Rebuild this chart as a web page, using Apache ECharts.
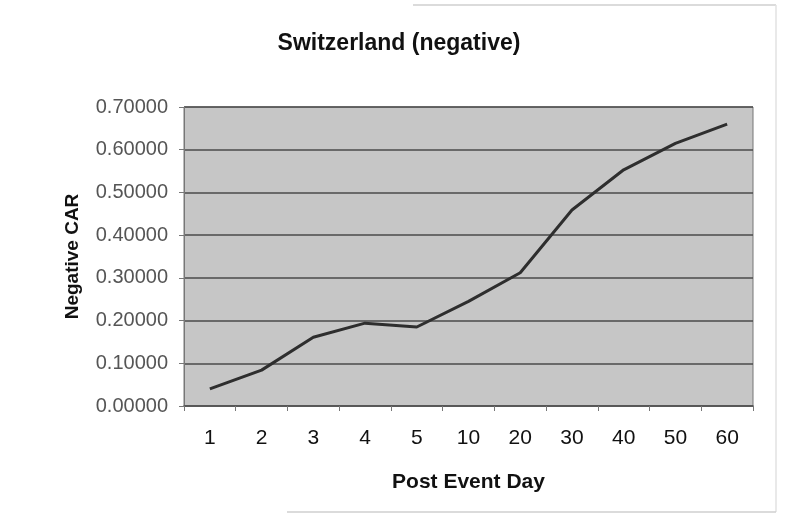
<!DOCTYPE html>
<html>
<head>
<meta charset="utf-8">
<script src="https://cdn.jsdelivr.net/npm/echarts@6/dist/echarts.min.js"></script>
<style>
  html, body { margin: 0; padding: 0; background: #ffffff; }
  #chart { width: 786px; height: 517px; }
</style>
</head>
<body>
<div id="chart"></div>
<script>
// Post-event days on the category axis
var days = ['1', '2', '3', '4', '5', '10', '20', '30', '40', '50', '60'];
// Cumulative abnormal return (negative events)
var negativeCAR = [0.040, 0.084, 0.161, 0.194, 0.185, 0.245, 0.312, 0.459, 0.553, 0.615, 0.660];
// Value axis range
var yMin = 0, yMax = 0.7, yStep = 0.1;

var chart = echarts.init(document.getElementById('chart'));
chart.setOption({
  animation: false,
  backgroundColor: '#ffffff',
  title: {
    text: 'Switzerland (negative)',
    left: 394, top: 27, textAlign: 'center',
    textStyle: { fontFamily: 'Liberation Sans, Arial, sans-serif', fontWeight: 'bold', fontSize: 23, color: '#111' }
  },
  grid: {
    left: 184, top: 107, right: 33, bottom: 111,
    show: true, backgroundColor: '#c6c6c6', borderColor: '#777', borderWidth: 1
  },
  xAxis: {
    type: 'category',
    data: days,
    boundaryGap: true,
    name: 'Post Event Day',
    nameLocation: 'middle',
    nameGap: 66,
    nameTextStyle: { fontFamily: 'Liberation Sans, Arial, sans-serif', fontWeight: 'bold', fontSize: 21, color: '#111' },
    axisLine: { lineStyle: { color: '#555', width: 1.5 } },
    axisTick: { show: true, length: 5, lineStyle: { color: '#777' } },
    axisLabel: { fontFamily: 'Liberation Sans, Arial, sans-serif', fontSize: 21, color: '#111', margin: 22 },
    splitLine: { show: false }
  },
  yAxis: {
    type: 'value',
    min: yMin, max: yMax, interval: yStep,
    name: 'Negative CAR',
    nameLocation: 'middle',
    nameGap: 102,
    nameTextStyle: { fontFamily: 'Liberation Sans, Arial, sans-serif', fontWeight: 'bold', fontSize: 19, color: '#111' },
    axisLine: { show: true, lineStyle: { color: '#777', width: 1 } },
    axisTick: { show: true, length: 5, lineStyle: { color: '#777' } },
    axisLabel: {
      fontFamily: 'Liberation Sans, Arial, sans-serif', fontSize: 20, color: '#555', margin: 16,
      formatter: function (v) { return v.toFixed(5); }
    },
    splitLine: { show: true, lineStyle: { color: '#4a4a4a', width: 1.5 } }
  },
  series: [{
    type: 'line',
    data: negativeCAR,
    symbol: 'none',
    lineStyle: { color: '#2e2e2e', width: 3 }
  }],
  graphic: [
    { type: 'line', shape: { x1: 413, y1: 5, x2: 776, y2: 5 }, style: { stroke: '#cfcfcf', lineWidth: 1.5 } },
    { type: 'line', shape: { x1: 776, y1: 5, x2: 776, y2: 512 }, style: { stroke: '#e2e2e2', lineWidth: 1.5 } },
    { type: 'line', shape: { x1: 287, y1: 512, x2: 776, y2: 512 }, style: { stroke: '#cfcfcf', lineWidth: 1.5 } }
  ]
});
</script>
</body>
</html>
